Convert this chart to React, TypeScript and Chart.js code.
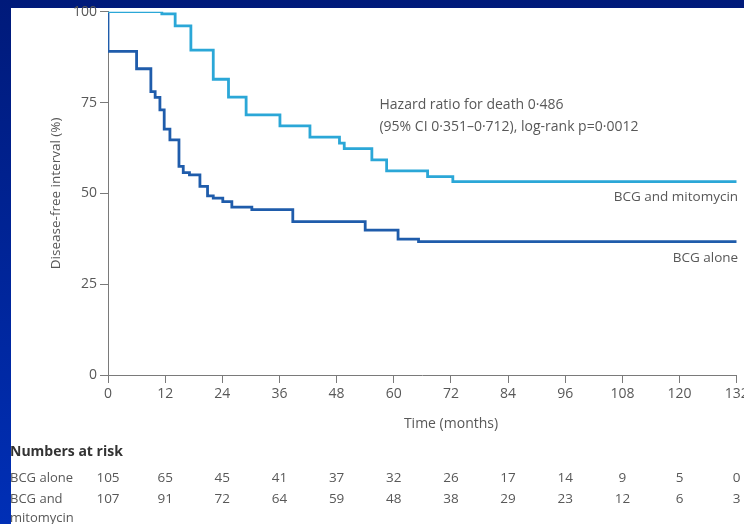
import React, { useEffect, useRef } from 'react';
import { Chart, registerables } from 'chart.js';

Chart.register(...registerables);

// Kaplan-Meier curves (time in months, disease-free %)
const mitoTimes = [0, 11.3, 14.1, 17.4, 22.1, 25.3, 29.0, 36.1, 42.4, 48.6, 49.6, 55.4, 58.5, 67.1, 72.4, 132];
const mitoValues = [100, 99.4, 96.1, 89.4, 81.4, 76.5, 71.6, 68.6, 65.5, 63.8, 62.3, 59.2, 56.2, 54.6, 53.2, 53.2];

const aloneTimes = [0, 0, 6.0, 9.0, 9.9, 10.9, 11.8, 13.0, 14.9, 15.8, 17.1, 19.3, 20.9, 22.1, 24.1, 26.0, 30.2, 38.8, 54.0, 60.9, 65.2, 132];
const aloneValues = [100, 89.1, 84.3, 78.0, 76.4, 73.0, 67.7, 64.7, 57.4, 55.7, 55.1, 51.9, 49.3, 48.7, 47.7, 46.2, 45.5, 42.2, 39.9, 37.4, 36.7, 36.7];

// Numbers at risk
const riskTimes = [0, 12, 24, 36, 48, 60, 72, 84, 96, 108, 120, 132];
const riskAlone = [105, 65, 45, 41, 37, 32, 26, 17, 14, 9, 5, 0];
const riskMito = [107, 91, 72, 64, 59, 48, 38, 29, 23, 12, 6, 3];

const seriesNames = ['BCG and mitomycin', 'BCG alone'];
const annotationLines = ['Hazard ratio for death 0·486', '(95% CI 0·351–0·712), log-rank p=0·0012'];
const xTitle = 'Time (months)';
const yTitle = 'Disease-free interval (%)';

const FONT = "'Open Sans', sans-serif";
const TEXT = '#585858';
const AXIS = '#7a7a7a';
const MITO_COLOR = '#2ba7d7';
const ALONE_COLOR = '#1f5cab';

export default function App() {
  const ref = useRef<HTMLCanvasElement>(null);

  useEffect(() => {
    document.body.style.margin = '0';
    const canvas = ref.current!;

    const overlay = {
      id: 'overlay',
      afterDraw(chart: any) {
        const ctx = chart.ctx as CanvasRenderingContext2D;
        const xs = chart.scales.x;
        const ys = chart.scales.y;
        ctx.save();
        ctx.beginPath();
        ctx.rect(11, 8, 733, 516);
        ctx.clip();
        ctx.fillStyle = TEXT;
        ctx.textBaseline = 'middle';

        // annotation
        ctx.font = `14px ${FONT}`;
        ctx.textAlign = 'left';
        const ax = xs.getPixelForValue(57);
        ctx.fillText(annotationLines[0], ax, ys.getPixelForValue(74.3));
        ctx.fillText(annotationLines[1], ax, ys.getPixelForValue(68.3));

        // curve labels
        ctx.font = `13.5px ${FONT}`;
        ctx.textAlign = 'right';
        const rx = xs.getPixelForValue(132.3);
        ctx.fillText(seriesNames[0], rx, ys.getPixelForValue(49.0));
        ctx.fillText(seriesNames[1], rx, ys.getPixelForValue(32.2));

        // x title
        ctx.font = `14px ${FONT}`;
        ctx.textAlign = 'center';
        ctx.fillText(xTitle, 451, 424);

        // numbers at risk
        ctx.textAlign = 'left';
        ctx.fillStyle = '#333';
        ctx.font = `bold 14px ${FONT}`;
        ctx.fillText('Numbers at risk', 10, 452);
        ctx.font = `13px ${FONT}`;
        ctx.fillStyle = TEXT;
        ctx.fillText(seriesNames[1], 10, 478);
        ctx.fillText('BCG and', 10, 499);
        ctx.fillText('mitomycin', 10, 518);
        ctx.font = `13.5px ${FONT}`;
        ctx.textAlign = 'center';
        riskTimes.forEach((t, i) => {
          const px = xs.getPixelForValue(t);
          ctx.fillText(String(riskAlone[i]), px, 478);
          ctx.fillText(String(riskMito[i]), px, 499);
        });
        ctx.restore();
      },
    };

    const chart = new Chart(canvas, {
      type: 'line',
      data: {
        datasets: [
          {
            label: seriesNames[0],
            data: mitoTimes.map((t, i) => ({ x: t, y: mitoValues[i] })),
            borderColor: MITO_COLOR,
            borderWidth: 2.8,
            stepped: true,
            pointRadius: 0,
            fill: false,
          },
          {
            label: seriesNames[1],
            data: aloneTimes.map((t, i) => ({ x: t, y: aloneValues[i] })),
            borderColor: ALONE_COLOR,
            borderWidth: 2.8,
            stepped: true,
            pointRadius: 0,
            fill: false,
          },
        ],
      },
      options: {
        responsive: false,
        animation: false,
        devicePixelRatio: 1,
        layout: { padding: { left: 0, right: 7.3, top: 11.7, bottom: 0 } },
        plugins: { legend: { display: false }, tooltip: { enabled: false }, title: { display: false } },
        scales: {
          x: {
            type: 'linear',
            min: 0,
            max: 132,
            ticks: { stepSize: 12, color: TEXT, font: { family: FONT, size: 14 }, padding: 3, maxRotation: 0, autoSkip: false },
            grid: { drawOnChartArea: false, drawTicks: true, tickLength: 8, color: AXIS },
            border: { display: true, color: AXIS, width: 1 },
            afterFit(scale: any) {
              scale.height = 149;
              scale.paddingLeft = 0;
              scale.paddingRight = 0;
            },
          },
          y: {
            type: 'linear',
            min: 0,
            max: 100,
            ticks: { stepSize: 25, color: TEXT, font: { family: FONT, size: 14 }, padding: 3 },
            grid: { drawOnChartArea: false, drawTicks: true, tickLength: 8, color: AXIS },
            border: { display: true, color: AXIS, width: 1 },
            title: { display: true, text: yTitle, color: TEXT, font: { family: FONT, size: 13.5 }, padding: { top: 48, bottom: 0 } },
            afterFit(scale: any) {
              scale.width = 108;
              scale.paddingTop = 0;
              scale.paddingBottom = 0;
            },
          },
        },
      },
      plugins: [overlay],
    });

    return () => {
      chart.destroy();
    };
  }, []);

  return (
    <div
      style={{
        position: 'relative',
        width: 744,
        height: 524,
        overflow: 'hidden',
        background: 'linear-gradient(to bottom, #001a7a, #002fb6)',
      }}
    >
      <div style={{ position: 'absolute', left: 11, top: 8, right: 0, bottom: 0, background: '#ffffff' }} />
      <canvas ref={ref} width={744} height={524} style={{ position: 'absolute', left: 0, top: 0 }} />
    </div>
  );
}
